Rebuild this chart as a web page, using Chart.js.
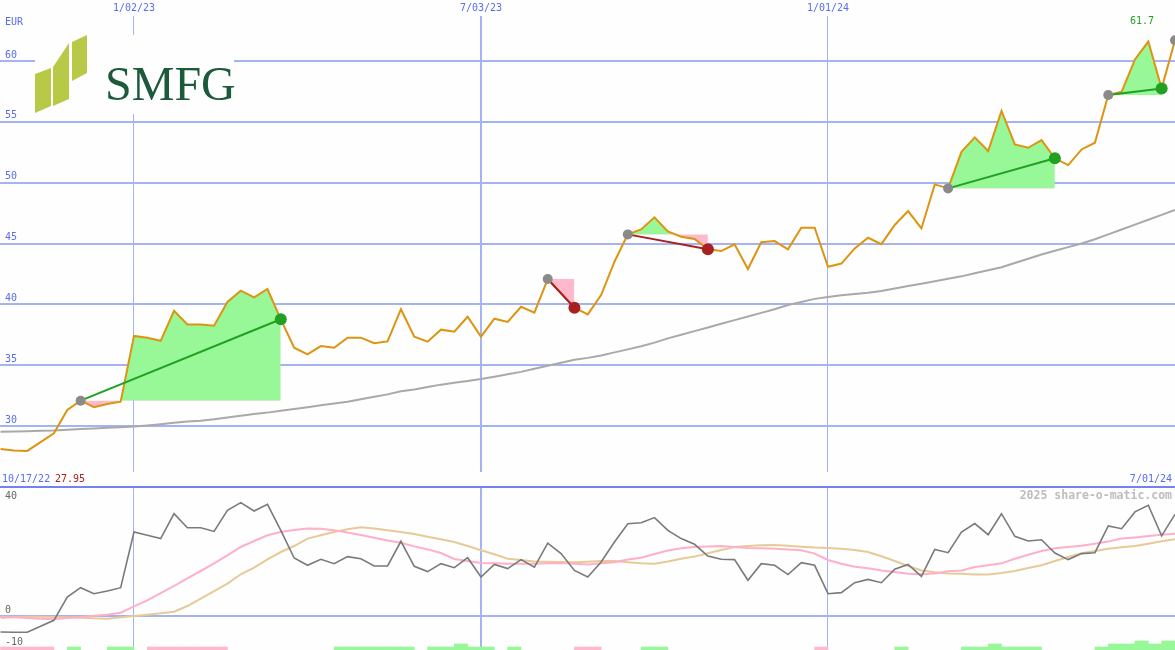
<!DOCTYPE html>
<html>
<head>
<meta charset="utf-8">
<script src="https://cdn.jsdelivr.net/npm/chart.js@4.4.1/dist/chart.umd.min.js"></script>
<style>
  html, body { margin: 0; padding: 0; background: #fdfefd; }
  #chart { display: block; }
</style>
</head>
<body>
<canvas id="chart" width="1175" height="650"></canvas>
<script>
// weekly closes, index 0 = week of 10/17/22
const firstDate = "10/17/22";
const lastDate = "7/01/24";
const dateTicks = [10, 36, 62];
const dateLabels = ["1/02/23", "7/03/23", "1/01/24"];

const closes = [
  28.1, 27.98, 27.95, 28.68, 29.4, 31.32, 32.08, 31.54, 31.81, 32.0,
  37.4, 37.26, 37.0, 39.47, 38.35, 38.35, 38.24, 40.2, 41.12, 40.57,
  41.26, 38.77, 36.43, 35.89, 36.57, 36.43, 37.26, 37.26, 36.8, 36.95,
  39.6, 37.34, 36.93, 37.92, 37.75, 38.98, 37.34, 38.82, 38.55, 39.8,
  39.31, 42.08, 40.9, 39.72, 39.17, 40.76, 43.5, 45.75, 46.16, 47.15,
  46.0, 45.56, 45.37, 44.52, 44.38, 44.93, 42.9, 45.1, 45.2, 44.52,
  46.3, 46.3, 43.09, 43.35, 44.6, 45.47, 44.95, 46.52, 47.67, 46.24,
  49.86, 49.53, 52.53, 53.72, 52.6, 55.9, 53.15, 52.87, 53.5, 52.0,
  51.45, 52.73, 53.28, 57.2, 57.47, 60.13, 61.6, 57.74, 61.7
];

const slowAverage = [
  29.53, 29.55, 29.57, 29.6, 29.63, 29.7, 29.75, 29.8, 29.85, 29.9,
  29.95, 30.05, 30.15, 30.27, 30.37, 30.44, 30.55, 30.7, 30.85, 30.98,
  31.1, 31.25, 31.4, 31.55, 31.7, 31.85, 32.0, 32.2, 32.4, 32.6,
  32.85, 33.0, 33.2, 33.4, 33.55, 33.7, 33.86, 34.05, 34.25, 34.45,
  34.7, 34.95, 35.2, 35.45, 35.6, 35.8, 36.05, 36.3, 36.55, 36.85,
  37.2, 37.5, 37.8, 38.1, 38.4, 38.7, 39.0, 39.3, 39.6, 39.95,
  40.2, 40.45, 40.6, 40.75, 40.85, 40.95, 41.1, 41.3, 41.5, 41.7,
  41.9, 42.1, 42.3, 42.55, 42.8, 43.05, 43.4, 43.75, 44.1, 44.4,
  44.7, 45.0, 45.35, 45.75, 46.15, 46.55, 46.95, 47.35, 47.75
];

const priceTicks = [30, 35, 40, 45, 50, 55, 60];

// [start week, end week] of each marked move
const trends = [[6, 21], [41, 43], [47, 53], [71, 79], [83, 87]];
const openTrend = 88;

const oscillator = [
  -5.33, -5.4, -5.4, -3.44, -1.44, 6.33, 9.44, 7.44, 8.33, 9.44,
  28, 26.9, 25.8, 34.1, 29.44, 29.44, 28.2, 35.2, 37.8, 35,
  37.2, 28.56, 19.33, 16.9, 18.9, 17.44, 19.8, 19.1, 16.67, 16.67,
  24.9, 16.56, 14.8, 17.44, 16.1, 19.44, 13, 17.2, 15.8, 18.8,
  16.3, 24.3, 20.8, 15.2, 13, 18, 24.67, 30.78, 31.1, 32.8,
  28.56, 25.8, 23.9, 20, 18.9, 18.8, 11.9, 17.44, 16.9, 13.8,
  17.8, 16.9, 7.44, 7.78, 11.1, 12.2, 11.1, 15.6, 17.2, 13.2,
  22.2, 21.1, 28, 30.8, 27.1, 34.1, 26.56, 25, 25.4, 21,
  18.8, 20.8, 21.1, 30, 29.1, 34.7, 36.9, 26.7, 33.9
];

const signalFast = [
  -0.33, -0.44, -0.67, -0.89, -1.1, -0.67, -0.33, 0.11, 0.44, 1.1,
  3.22, 5.2, 7.6, 10, 12.56, 15, 17.56, 20.2, 23, 25,
  26.9, 28, 28.67, 29.2, 29.1, 28.56, 27.8, 27, 26.1, 25.2,
  24.4, 23.2, 22.2, 21, 19, 18.33, 17.67, 17.56, 17.44, 17.44,
  17.44, 17.56, 17.67, 17.44, 17.2, 17.56, 17.9, 18.8, 19.4, 20.67,
  21.8, 22.56, 23, 23.2, 23.33, 23, 22.67, 22.56, 22.44, 22.2,
  21.9, 20.8, 18.67, 17.44, 16.44, 15.9, 15.2, 14.67, 14.1, 13.9,
  14.2, 14.9, 15.2, 16.3, 16.9, 17.56, 19.1, 20.4, 21.67, 22.56,
  23, 23.4, 24.1, 24.8, 25.8, 26.2, 26.67, 27.1, 27.4
];

const signalSlow = [
  -0.67, -0.33, -0.22, -0.22, -0.33, -0.44, -0.56, -0.78, -0.89, -0.44,
  0, 0.44, 0.89, 1.44, 3.33, 5.78, 8.33, 10.78, 13.9, 16.1,
  18.9, 21.33, 23.33, 25.8, 26.9, 28, 28.9, 29.56, 29.2, 28.56,
  28, 27.3, 26.4, 25.56, 24.67, 23.33, 21.9, 20.6, 19.1, 18.67,
  18.2, 18.1, 18, 17.9, 18.1, 18.33, 18.33, 17.9, 17.56, 17.44,
  18.2, 19.1, 19.8, 20.9, 22, 23, 23.33, 23.56, 23.67, 23.4,
  23.1, 22.8, 22.67, 22.44, 22, 21.33, 19.9, 18.33, 16.67, 15.2,
  14.6, 14.2, 14.1, 13.8, 13.8, 14.33, 15, 16, 16.9, 18.33,
  19.67, 20.9, 21.67, 22.44, 22.9, 23.33, 24.1, 24.9, 25.56
];

// small weekly blocks along the bottom edge (sign = colour)
const histogram = [
  -1, -1, -1, -1, 0, 1, 0, 0, 1, 1,
  0, -1, -1, -1, -1, -1, -1, 0, 0, 0,
  0, 0, 0, 0, 0, 1, 1, 1, 1, 1,
  1, 0, 1, 1, 2, 1, 1, 0, 1, 0,
  0, 0, 0, -1, -1, 0, 0, 0, 1, 1,
  0, 0, 0, 0, 0, 0, 0, 0, 0, 0,
  0, -1, 0, 0, 0, 0, 0, 1, 0, 0,
  0, 0, 1, 1, 2, 1, 1, 1, 0, 0,
  0, 0, 1, 2, 2, 3, 2, 3
];

const oscLabels = [40, 0, -10];

const background = "#fdfefd";
const gridBlue = "#a6b3f3";
const textBlue = "#5a6cf0";
const upGreen = "#98f898";
const downPink = "#ffb8cc";

// value ranges so that the two panels share one canvas
const priceRange = { min: 11.589, max: 65.014 };
const oscRange = { min: -11.333, max: 205.333 };
const separatorValue = 43;

const points = (values, start = 0) => values.map((value, i) => ({ x: start + i, y: value }));

function fillDatasets() {
  return trends.map(([start, end]) => ({
    type: "line",
    data: points(closes.slice(start, end + 1), start),
    borderWidth: 0,
    pointRadius: 0,
    fill: { target: { value: closes[start] }, above: upGreen, below: downPink },
    order: 10
  }));
}

function trendLineDatasets() {
  return trends.map(([start, end]) => ({
    type: "line",
    data: [{ x: start, y: closes[start] }, { x: end, y: closes[end] }],
    borderColor: closes[end] >= closes[start] ? "#22a022" : "#a82020",
    borderWidth: 2,
    pointRadius: 0,
    order: 4
  }));
}

function drawLogo(ctx) {
  ctx.fillStyle = background;
  ctx.fillRect(35, 35, 199, 79);
  ctx.fillStyle = "#b7c947";
  const blades = [
    [[35, 74], [51, 68], [51, 106], [35, 113]],
    [[53, 67], [69, 43], [69, 99], [53, 106]],
    [[72, 42], [87, 35], [87, 73], [72, 81]]
  ];
  blades.forEach(blade => {
    ctx.beginPath();
    blade.forEach(([x, y], i) => i ? ctx.lineTo(x, y) : ctx.moveTo(x, y));
    ctx.closePath();
    ctx.fill();
  });
  ctx.fillStyle = "#1c5a3b";
  ctx.font = "48px 'Liberation Serif'";
  ctx.textAlign = "left";
  ctx.textBaseline = "alphabetic";
  ctx.fillText("SMFG", 105, 100);
}

const panelText = {
  id: "panelText",
  beforeDatasetsDraw(chart) {
    const { ctx, scales } = chart;
    ctx.save();
    ctx.fillStyle = background;
    ctx.fillRect(0, 0, chart.width, 16);
    ctx.fillRect(0, 472, chart.width, 14);
    const sep = Math.round(scales.y2.getPixelForValue(separatorValue));
    ctx.fillStyle = "#7482ee";
    ctx.fillRect(0, sep - 1, chart.width, 2);
    drawLogo(ctx);
    ctx.restore();
  },
  afterDraw(chart) {
    const { ctx, scales } = chart;
    ctx.save();
    ctx.font = "10px 'DejaVu Sans Mono'";
    ctx.textBaseline = "middle";
    ctx.fillStyle = textBlue;

    ctx.textAlign = "center";
    dateTicks.forEach((week, i) => ctx.fillText(dateLabels[i], scales.x.getPixelForValue(week), 8));

    ctx.textAlign = "left";
    ctx.fillText("EUR", 5, 22);
    priceTicks.forEach(value => ctx.fillText(String(value), 5, scales.y.getPixelForValue(value) - 6));
    ctx.fillText(firstDate, 2, 479);
    ctx.fillStyle = "#a82222";
    ctx.fillText(Math.min(...closes).toFixed(2), 55, 479);

    ctx.textAlign = "right";
    ctx.fillStyle = textBlue;
    ctx.fillText(lastDate, 1172, 479);

    ctx.textAlign = "center";
    ctx.fillStyle = "#22a022";
    ctx.fillText(closes[closes.length - 1].toFixed(1), 1142, 21);

    ctx.fillStyle = "#666666";
    ctx.textAlign = "left";
    const oscOffsets = { 40: 0, 0: -6, "-10": -4 };
    oscLabels.forEach(value => ctx.fillText(String(value), 5, scales.y2.getPixelForValue(value) + oscOffsets[value]));

    ctx.font = "bold 11.5px 'DejaVu Sans Mono'";
    ctx.textAlign = "right";
    ctx.fillStyle = "#bdbdbd";
    ctx.fillText("2025 share-o-matic.com", 1172, 496);
    ctx.restore();
  }
};

const histogramBars = histogram
  .map((value, i) => ({ value, i }))
  .filter(item => item.value !== 0);

new Chart(document.getElementById("chart"), {
  type: "line",
  data: {
    datasets: [
      ...fillDatasets(),
      {
        type: "bar",
        yAxisID: "y2",
        data: histogramBars.map(item => ({ x: item.i + 0.5, y: [oscRange.min, oscRange.min + Math.abs(item.value)] })),
        backgroundColor: histogramBars.map(item => item.value > 0 ? upGreen : downPink),
        barPercentage: 1,
        categoryPercentage: 1,
        borderWidth: 0,
        order: 11
      },
      {
        data: points(slowAverage),
        borderColor: "#a9a9a9",
        borderWidth: 2,
        pointRadius: 0,
        order: 9
      },
      {
        yAxisID: "y2",
        data: points(signalSlow),
        borderColor: "#e6ca98",
        borderWidth: 2,
        pointRadius: 0,
        order: 8
      },
      {
        yAxisID: "y2",
        data: points(signalFast),
        borderColor: "#ffb0c8",
        borderWidth: 2,
        pointRadius: 0,
        order: 7
      },
      {
        yAxisID: "y2",
        data: points(oscillator),
        borderColor: "#7a7a7a",
        borderWidth: 1.6,
        pointRadius: 0,
        order: 6
      },
      {
        data: points(closes),
        borderColor: "#dd9410",
        borderWidth: 2,
        pointRadius: 0,
        order: 5
      },
      ...trendLineDatasets(),
      {
        type: "scatter",
        data: [...trends.map(([start]) => start), openTrend].map(week => ({ x: week, y: closes[week] })),
        pointRadius: 5,
        pointBackgroundColor: "#8a8a8a",
        pointBorderWidth: 0,
        order: 2
      },
      {
        type: "scatter",
        data: trends.map(([, end]) => ({ x: end, y: closes[end] })),
        pointRadius: 6,
        pointBackgroundColor: trends.map(([start, end]) => closes[end] >= closes[start] ? "#22a022" : "#a82020"),
        pointBorderWidth: 0,
        order: 1
      }
    ]
  },
  options: {
    responsive: false,
    animation: false,
    devicePixelRatio: 1,
    layout: { padding: 0, autoPadding: false },
    plugins: {
      legend: { display: false },
      tooltip: { enabled: false }
    },
    scales: {
      x: {
        type: "linear",
        min: -0.04,
        max: 88,
        offset: false,
        ticks: { display: false },
        border: { display: false },
        grid: {
          offset: false,
          color: gridBlue,
          drawTicks: false,
          lineWidth: context => context.tick && context.tick.value === 36 ? 2 : 1
        },
        afterBuildTicks: scale => { scale.ticks = dateTicks.map(value => ({ value })); }
      },
      y: {
        min: priceRange.min,
        max: priceRange.max,
        ticks: { display: false },
        border: { display: false },
        grid: { color: gridBlue, lineWidth: 2, drawTicks: false },
        afterBuildTicks: scale => { scale.ticks = priceTicks.map(value => ({ value })); }
      },
      y2: {
        min: oscRange.min,
        max: oscRange.max,
        ticks: { display: false },
        border: { display: false },
        grid: { color: gridBlue, lineWidth: 2, drawTicks: false },
        afterBuildTicks: scale => { scale.ticks = [{ value: 0 }]; }
      }
    }
  },
  plugins: [panelText]
});
</script>
</body>
</html>
